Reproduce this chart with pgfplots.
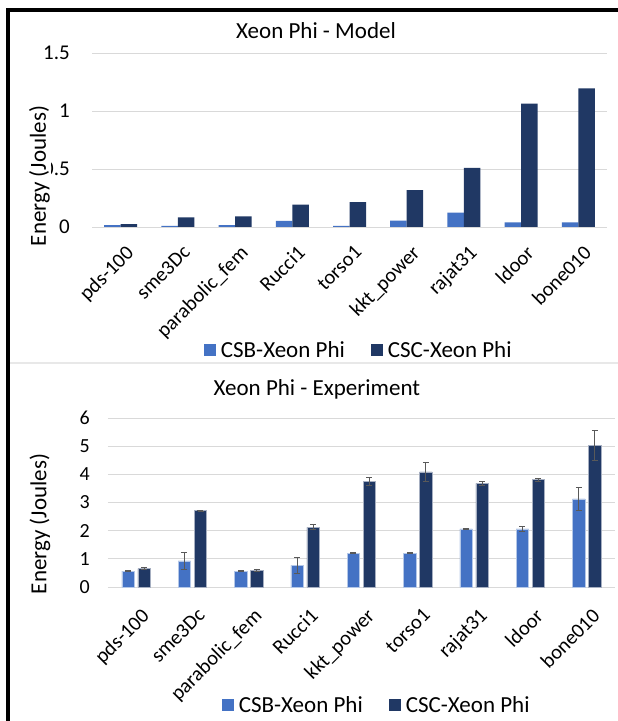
\documentclass[border=0pt]{standalone}
\usepackage{fontspec}
\setmainfont{Carlito}
\usepackage{pgfplots}
\usepackage{pgfplotstable}
\pgfplotsset{compat=1.18}
\definecolor{csb}{HTML}{4472C4}
\definecolor{csc}{HTML}{203864}
\definecolor{gridc}{HTML}{D9D9D9}
\definecolor{errc}{HTML}{595959}

% Model (top)
\pgfplotstableread{
x csb csc
0 0.017 0.025
1 0.009 0.082
2 0.017 0.091
3 0.052 0.192
4 0.009 0.215
5 0.056 0.317
6 0.123 0.509
7 0.039 1.064
8 0.039 1.196
}\modeldata

% Experiment (bottom)
\pgfplotstableread{
x csb csberr csc cscerr
0 0.56 0.02 0.65 0.04
1 0.93 0.29 2.71 0.02
2 0.56 0.02 0.59 0.05
3 0.77 0.27 2.12 0.09
4 1.20 0.02 3.75 0.14
5 1.20 0.02 4.09 0.33
6 2.06 0.02 3.68 0.08
7 2.06 0.09 3.81 0.05
8 3.13 0.41 5.02 0.53
}\expdata

\pgfplotsset{
  xlchart/.style={
    scale only axis,
    ybar,
    xmin=-0.5, xmax=8.5, ymin=0,
    axis line style={draw=none},
    major tick length=0pt,
    ymajorgrids,
    grid style={gridc, line width=0.9pt},
    xtick={0,...,8},
    title style={font=\fontsize{23}{27}\selectfont, anchor=center, inner sep=0pt},
    ylabel style={font=\fontsize{23}{27}\selectfont, anchor=center, inner sep=1.5pt, fill=white},
    legend columns=2,
    legend style={draw=none, fill=none, font=\fontsize{23}{27}\selectfont, anchor=center,
      /tikz/every even column/.append style={column sep=24pt}},
  },
  sqA/.style={legend image code/.code={\fill[csb, draw=none] (0pt,-6pt) rectangle (12pt,6pt); \path[draw=none, fill=none] (0pt,0pt) -- (15pt,0pt);}},
  sqB/.style={legend image code/.code={\fill[csc, draw=none] (0pt,-6pt) rectangle (12pt,6pt); \path[draw=none, fill=none] (0pt,0pt) -- (15pt,0pt);}},
}

\begin{document}
\begin{tikzpicture}
\useasboundingbox (0pt,0pt) rectangle (618pt,721pt);
\fill[white] (0pt,0pt) rectangle (618pt,721pt);
\draw[gridc!60, line width=2.5pt] (10pt,358pt) -- (618pt,358pt);

% ---------------- Top: Model ----------------
\begin{axis}[xlchart,
  at={(92pt,494pt)}, anchor=south west,
  width=515pt, height=174pt,
  ymax=1.5,
  ytick={0,0.5,1,1.5}, yticklabels={0,0.5,1,1.5},
  yticklabel style={font=\fontsize{21}{25}\selectfont, anchor=east, inner sep=0pt, xshift=-22pt},
  xticklabels={pds-100,sme3Dc,parabolic\_fem,Rucci1,torso1,kkt\_power,rajat31,ldoor,bone010},
  xticklabel style={font=\fontsize{20.5}{24}\selectfont, inner sep=0pt, yshift=-17pt, xshift=4pt, rotate=45, anchor=north east},
  bar width=16.5pt,
  title={Xeon Phi - Model},
  title style={at={(axis description cs:0.435,1.092)}},
  ylabel={Energy (Joules)},
  ylabel style={at={(axis description cs:-0.102,0.293)}},
  legend style={at={(rel axis cs:0.518,-0.707)}},
]
\addlegendimage{sqA}
\addlegendentry{CSB-Xeon Phi}
\addlegendimage{sqB}
\addlegendentry{CSC-Xeon Phi}
\addplot[fill=csb, draw=none, bar shift=-8.25pt, forget plot] table[x=x, y=csb] {\modeldata};
\addplot[fill=csc, draw=none, bar shift=8.25pt, forget plot] table[x=x, y=csc] {\modeldata};
\end{axis}

% ---------------- Bottom: Experiment ----------------
\begin{axis}[xlchart,
  at={(108pt,134pt)}, anchor=south west,
  width=507pt, height=169pt,
  ymax=6,
  ytick={0,1,2,3,4,5,6}, yticklabels={0,1,2,3,4,5,6},
  yticklabel style={font=\fontsize{20}{24}\selectfont, anchor=east, inner sep=0pt, xshift=-18pt},
  xticklabels={pds-100,sme3Dc,parabolic\_fem,Rucci1,kkt\_power,torso1,rajat31,ldoor,bone010},
  xticklabel style={font=\fontsize{20.5}{24}\selectfont, inner sep=0pt, yshift=-20pt, xshift=4pt, rotate=45, anchor=north east},
  bar width=12.5pt,
  title={Xeon Phi - Experiment},
  title style={at={(axis description cs:0.412,1.136)}},
  ylabel={Energy (Joules)},
  ylabel style={at={(axis description cs:-0.134,0.373)}},
  legend style={at={(rel axis cs:0.53,-0.698)}},
]
\addlegendimage{sqA}
\addlegendentry{CSB-Xeon Phi}
\addlegendimage{sqB}
\addlegendentry{CSC-Xeon Phi}
\addplot[fill=csb, draw=csb!40, line width=0.6pt, bar shift=-8pt, forget plot,
  error bars/.cd, y dir=both, y explicit,
  error bar style={errc, line width=0.8pt},
  error mark options={rotate=90, mark size=3pt, errc, line width=0.8pt}]
  table[x=x, y=csb, y error=csberr] {\expdata};
\addplot[fill=csc, draw=csc!40, line width=0.6pt, bar shift=8pt, forget plot,
  error bars/.cd, y dir=both, y explicit,
  error bar style={errc, line width=0.8pt},
  error mark options={rotate=90, mark size=3pt, errc, line width=0.8pt}]
  table[x=x, y=csc, y error=cscerr] {\expdata};
\end{axis}

% outer black frame (top and left)
\draw[black, line width=4pt] (8pt,0pt) -- (8pt,711pt) -- (618pt,711pt);
\end{tikzpicture}
\end{document}
